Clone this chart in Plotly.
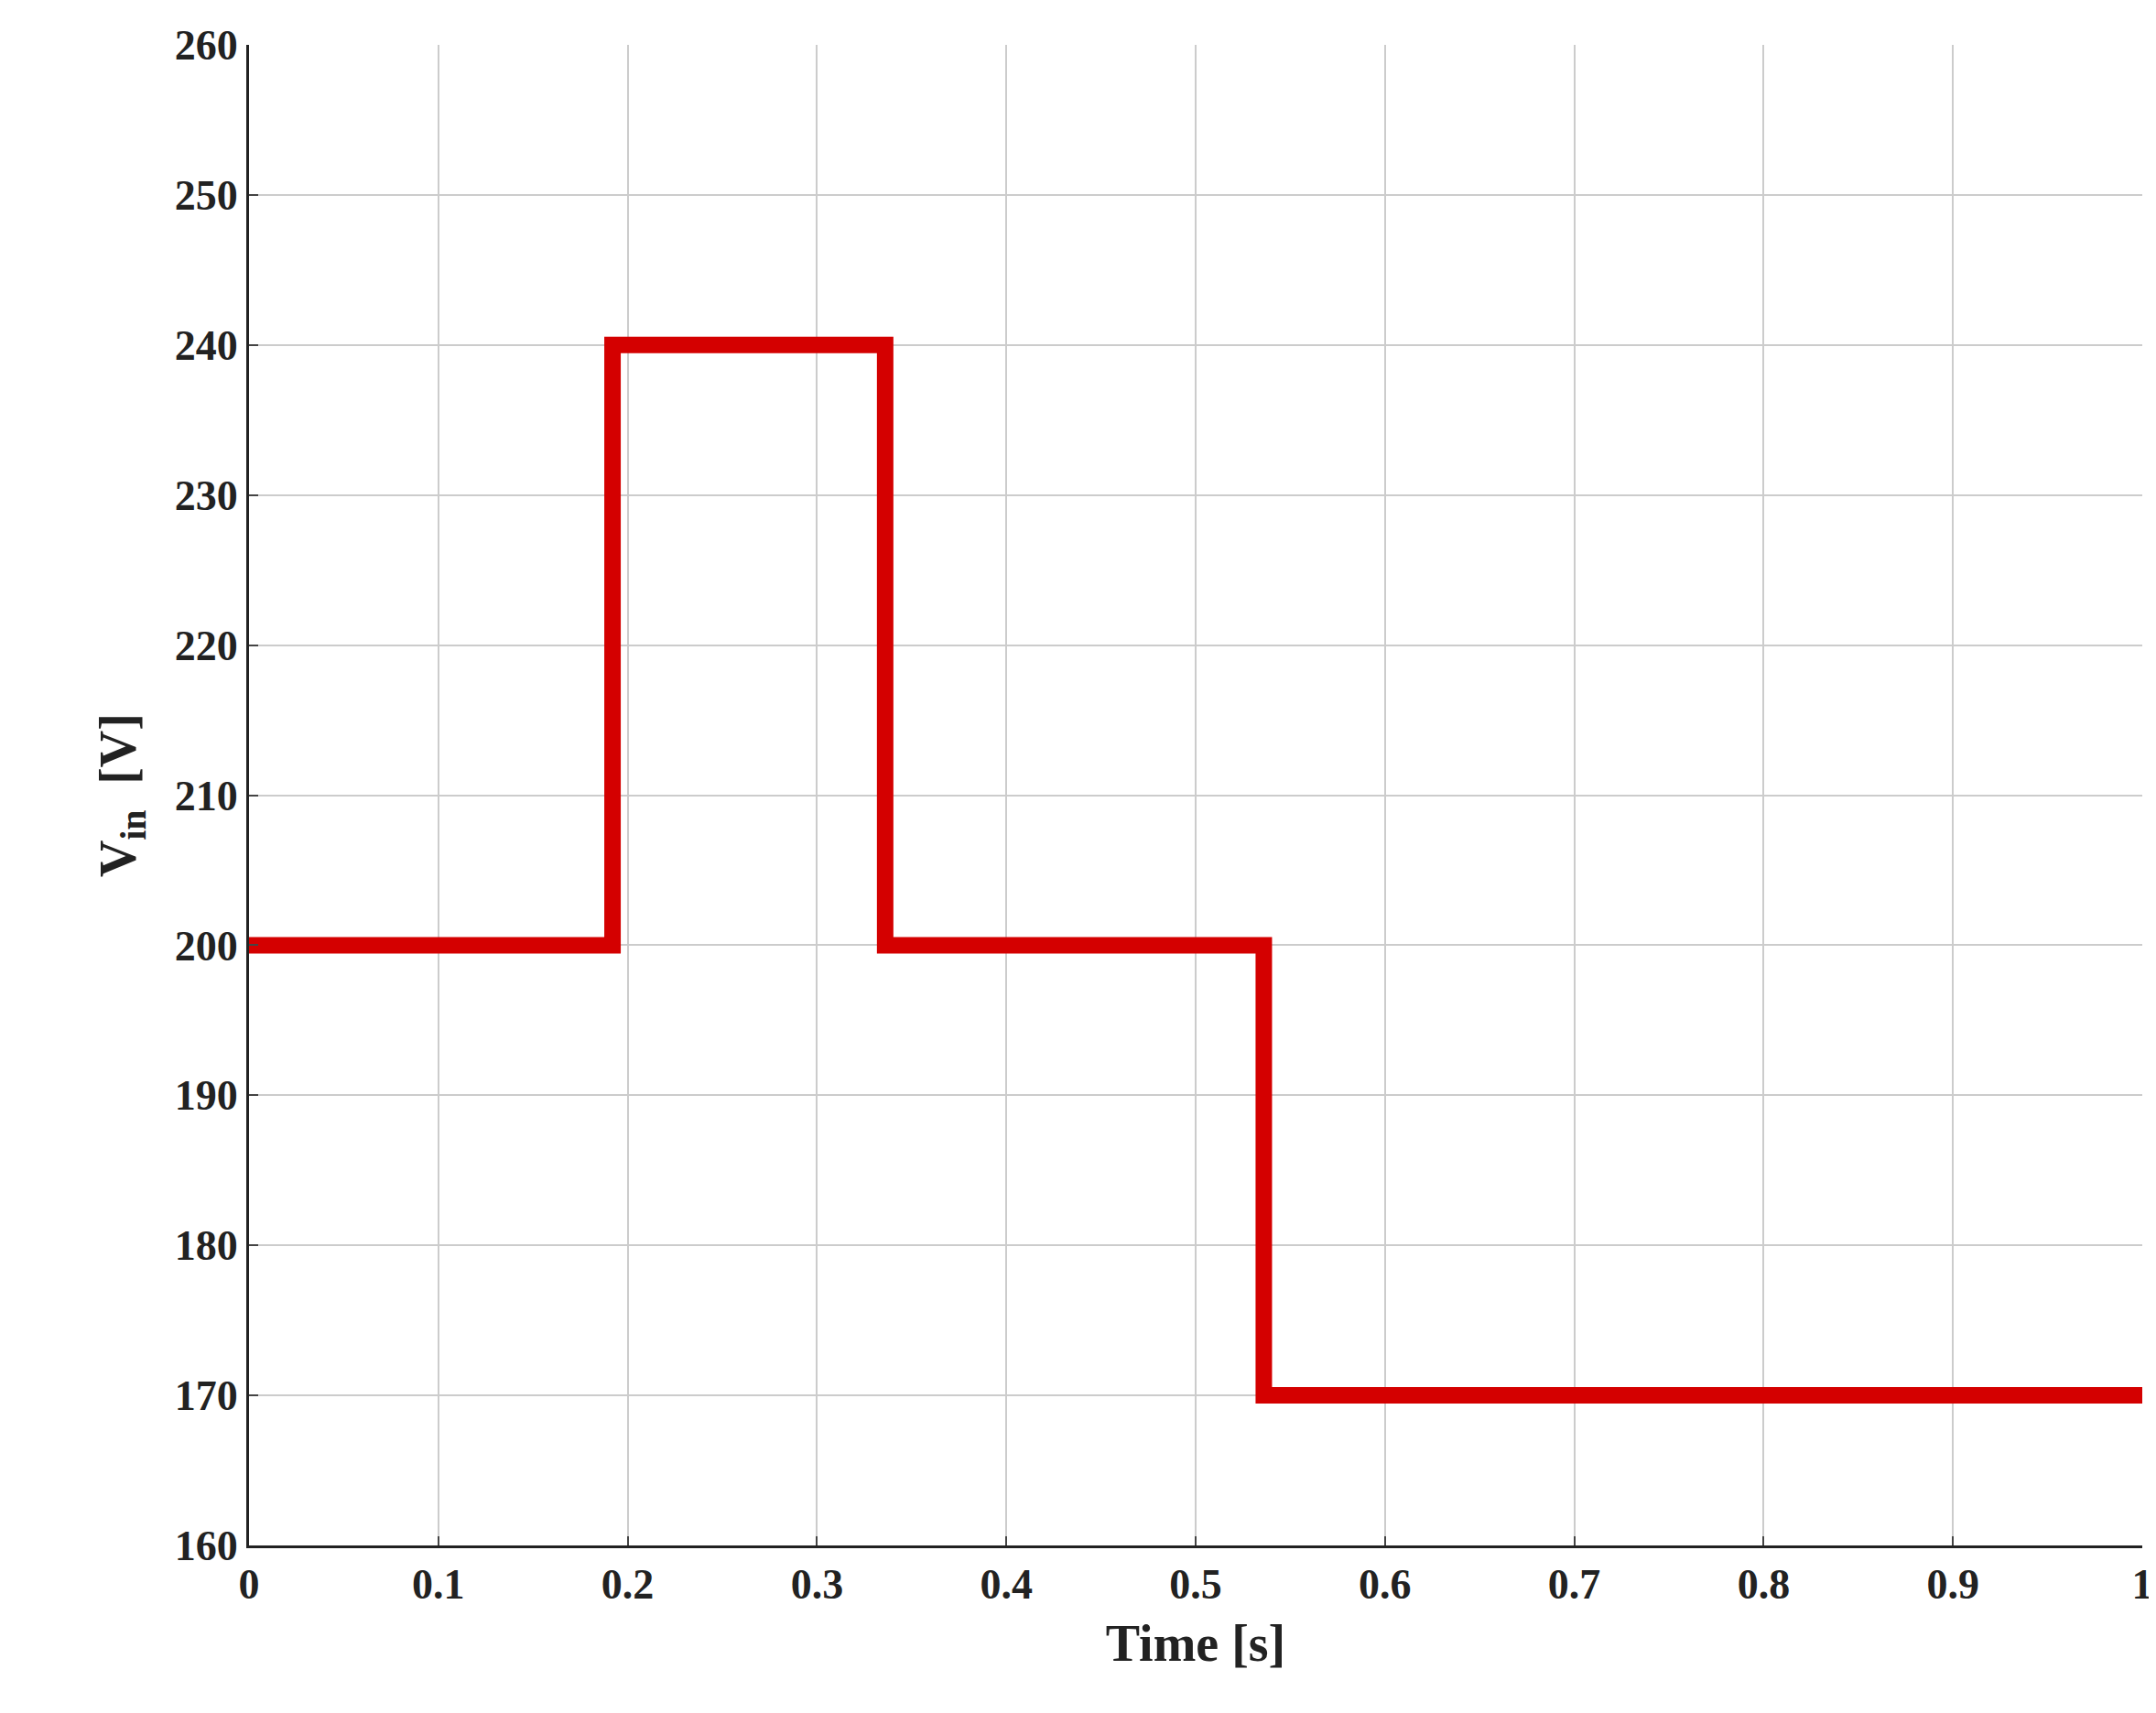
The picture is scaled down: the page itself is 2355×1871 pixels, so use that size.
import plotly.graph_objects as go

# step profile of input voltage
time_s = [0, 0.192, 0.192, 0.336, 0.336, 0.536, 0.536, 1.0]
vin_v = [200, 200, 240, 240, 200, 200, 170, 170]

x_ticks = [0, 0.1, 0.2, 0.3, 0.4, 0.5, 0.6, 0.7, 0.8, 0.9, 1]
x_labels = ["0", "0.1", "0.2", "0.3", "0.4", "0.5", "0.6", "0.7", "0.8", "0.9", "1"]
y_ticks = [160, 170, 180, 190, 200, 210, 220, 230, 240, 250, 260]

font = dict(family="Liberation Serif, DejaVu Serif, serif", size=46, color="#222222")

fig = go.Figure()
fig.add_trace(go.Scatter(x=time_s, y=vin_v, mode="lines",
                         line=dict(color="#d40000", width=18), showlegend=False))

fig.update_xaxes(range=[0, 1], tickvals=x_ticks, ticktext=["<b>%s</b>" % t for t in x_labels],
                 showgrid=True, gridcolor="#cccccc", gridwidth=2,
                 showline=True, linecolor="#222222", linewidth=3,
                 ticks="inside", ticklen=10, tickwidth=2, zeroline=False,
                 title=dict(text="<b>Time [s]</b>", font=dict(size=56), standoff=20))
fig.update_yaxes(range=[160, 260], tickvals=y_ticks, ticktext=["<b>%d</b>" % t for t in y_ticks],
                 showgrid=True, gridcolor="#cccccc", gridwidth=2,
                 showline=True, linecolor="#222222", linewidth=3,
                 ticks="inside", ticklen=10, tickwidth=2, zeroline=False,
                 title=dict(text="<b>V<sub>in</sub>  [V]</b>", font=dict(size=56), standoff=25))
fig.update_layout(width=2355, height=1871, font=font,
                  plot_bgcolor="white", paper_bgcolor="white",
                  margin=dict(l=264, r=23, t=41, b=191))
fig.write_html("out.html")
